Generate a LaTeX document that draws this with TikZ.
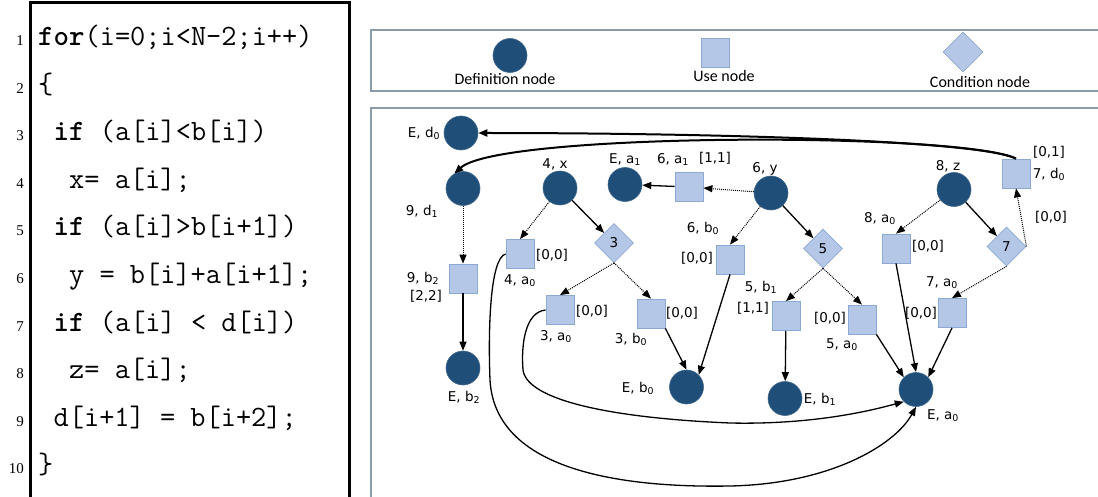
\documentclass[tikz,border=0pt]{standalone}
\usepackage{fontspec}
\newfontfamily\numfont{Liberation Serif}
\newfontfamily\lblfont{DejaVu Sans}
\newfontfamily\legfont{Carlito}
\usetikzlibrary{arrows.meta,shapes.geometric}
\definecolor{defblue}{HTML}{1F4E79}
\definecolor{useblue}{HTML}{B4C7E7}
\definecolor{useedge}{HTML}{8EA9D1}
\definecolor{boxgrey}{HTML}{8C9BA8}
\newcommand{\sub}[1]{\textsubscript{#1}}

\begin{document}
\begin{tikzpicture}[x=1pt,y=-1pt,
    defnode/.style={circle,fill=defblue,draw=defblue!85!white,line width=0.6pt,minimum size=34pt,inner sep=0pt},
    usenode/.style={rectangle,fill=useblue,draw=useedge,line width=0.8pt,minimum width=28pt,minimum height=29pt,inner sep=0pt},
    condnode/.style={diamond,fill=useblue,draw=useedge,line width=0.8pt,minimum size=39pt,inner sep=0pt,font=\lblfont\fontsize{13.5}{15}\selectfont},
    lbl/.style={anchor=base,inner sep=0pt,font=\lblfont\fontsize{13.5}{15}\selectfont},
    codeline/.style={anchor=base west,inner sep=0pt,font=\ttfamily\fontsize{29.5}{31}\selectfont},
    linenum/.style={anchor=base east,inner sep=0pt,font=\numfont\fontsize{15}{17}\selectfont},
    legtext/.style={anchor=base,inner sep=0pt,font=\legfont\fontsize{16}{18}\selectfont},
    solidedge/.style={-{Triangle[length=9pt,width=7pt]},line width=1.3pt},
    dotedge/.style={-{Triangle[length=9pt,width=7pt]},line width=1pt,dash pattern=on 1pt off 1pt},
    longedge/.style={-{Triangle[length=9pt,width=7pt]},line width=2pt}]
\useasboundingbox (0,0) rectangle (1098,497);

% code listing
\draw[line width=3pt] (30,540) -- (30,3) -- (349,3) -- (349,540);
\foreach \n in {1,...,10}
    \node[linenum] (num\n) at (24, {45.5+47.6*(\n-1)}) {\n};
\node[codeline] (line1) at (38,45.5) {\textbf{for}(i=0;i<N-2;i++)};
\node[codeline] (line2) at (38,93.1) {\{};
\node[codeline] (line3) at (53.5,140.7) {\textbf{if} (a[i]<b[i])};
\node[codeline] (line4) at (69,188.3) {x= a[i];};
\node[codeline] (line5) at (53.5,235.9) {\textbf{if} (a[i]>b[i+1])};
\node[codeline] (line6) at (69,283.5) {y = b[i]+a[i+1];};
\node[codeline] (line7) at (53.5,331.1) {\textbf{if} (a[i] < d[i])};
\node[codeline] (line8) at (69,378.7) {z= a[i];};
\node[codeline] (line9) at (53.5,426.3) {d[i+1] = b[i+2];};
\node[codeline] (line10) at (38,473.9) {\}};

% legend
\draw[boxgrey,line width=1.2pt] (1110,30) -- (371,30) -- (371,91) -- (1110,91);
\node[defnode] (legdef) at (510,55.5) {};
\node[legtext] (legdeftxt) at (505,85) {Definition node};
\node[usenode] (leguse) at (715,53) {};
\node[legtext] (legusetxt) at (724,82) {Use node};
\node[condnode,minimum size=40pt] (legcond) at (963,52) {};
\node[legtext] (legcondtxt) at (980,88) {Condition node};

% graph
\draw[boxgrey,line width=1.2pt] (1110,108) -- (371,108) -- (371,510);

\node[defnode] (Ed0) at (461,133) {};
\node[defnode] (d9) at (463,188.5) {};
\node[defnode] (x4) at (560,188) {};
\node[defnode] (Ea1) at (625,184.5) {};
\node[usenode] (u6a1) at (689,187) {};
\node[defnode] (y6) at (771,193) {};
\node[defnode] (z8) at (954,189.5) {};
\node[usenode] (u7d0) at (1016,173.5) {};
\node[usenode] (u4a0) at (520,254) {};
\node[condnode] (cond3) at (614,243) {3};
\node[usenode] (u6b0) at (730,259.5) {};
\node[condnode] (cond5) at (823,248.5) {5};
\node[usenode] (u8a0) at (896,248.5) {};
\node[condnode] (cond7) at (1006.5,246.5) {7};
\node[usenode] (u9b2) at (463,278.5) {};
\node[usenode] (u3a0) at (560,310) {};
\node[usenode] (u3b0) at (651,313.5) {};
\node[usenode] (u5b1) at (786,316) {};
\node[usenode] (u5a0) at (862,319.5) {};
\node[usenode] (u7a0) at (952,313) {};
\node[defnode] (Eb2) at (463,368) {};
\node[defnode] (Eb0) at (686.5,387) {};
\node[defnode] (Eb1) at (785,398.5) {};
\node[defnode] (Ea0) at (916,389.5) {};

% labels
\node[lbl] (tEd0) at (424,137.5) {E, d\sub{0}};
\node[lbl] (td9) at (422,215.5) {9, d\sub{1}};
\node[lbl] (tx4) at (555,168.5) {4, x};
\node[lbl] (tEa1) at (625,163.5) {E, a\sub{1}};
\node[lbl] (t6a1) at (673,163.5) {6, a\sub{1}};
\node[lbl] (r6a1) at (715,162.5) {[1,1]};
\node[lbl] (ty6) at (765,172.5) {6, y};
\node[lbl] (tz8) at (948,170.5) {8, z};
\node[lbl] (r7d0) at (1049,157) {[0,1]};
\node[lbl] (t7d0) at (1049,178.5) {7, d\sub{0}};
\node[lbl] (r4a0) at (552,260) {[0,0]};
\node[lbl] (t4a0) at (520,284.5) {4, a\sub{0}};
\node[lbl] (t9b2) at (423,282.5) {9, b\sub{2}};
\node[lbl] (r9b2) at (426,300) {[2,2]};
\node[lbl] (t6b0) at (703,232.5) {6, b\sub{0}};
\node[lbl] (r6b0) at (697,262) {[0,0]};
\node[lbl] (t8a0) at (880,222.5) {8, a\sub{0}};
\node[lbl] (r8a0) at (928,251) {[0,0]};
\node[lbl] (r7e) at (1051,222) {[0,0]};
\node[lbl] (t5b1) at (761,291.5) {5, b\sub{1}};
\node[lbl] (t7a0) at (942,286.5) {7, a\sub{0}};
\node[lbl] (r3a0) at (592,315) {[0,0]};
\node[lbl] (t3a0) at (556,340.5) {3, a\sub{0}};
\node[lbl] (r3b0) at (682,317) {[0,0]};
\node[lbl] (t3b0) at (631,343.5) {3, b\sub{0}};
\node[lbl] (r5b1) at (753,312) {[1,1]};
\node[lbl] (r5a0) at (830,322) {[0,0]};
\node[lbl] (t5a0) at (842,348.5) {5, a\sub{0}};
\node[lbl] (r7a0) at (921,317) {[0,0]};
\node[lbl] (tEb2) at (464,401.5) {E, b\sub{2}};
\node[lbl] (tEb0) at (638,392.5) {E, b\sub{0}};
\node[lbl] (tEb1) at (820,403.5) {E, b\sub{1}};
\node[lbl] (tEa0) at (943,419.5) {E, a\sub{0}};

% edges
\draw[longedge] (u7d0.north) .. controls (980,140) and (700,133) .. (Ed0.east);
\draw[longedge] (u7d0.north) .. controls (960,132) and (500,132) .. (d9.120);
\draw[dotedge] (d9) -- (u9b2);
\draw[solidedge] (u9b2) -- (Eb2);
\draw[dotedge] (x4) -- (u4a0.north);
\draw[solidedge] (x4) -- (cond3);
\draw[dotedge] (cond3.south) -- (u3a0.north);
\draw[dotedge] (cond3.south) -- (u3b0.north);
\draw[solidedge] (u3b0.south east) -- (Eb0.north);
\draw[solidedge] (u6b0.south) -- (Eb0.north east);
\draw[solidedge] (u6a1) -- (Ea1);
\draw[dotedge] (y6) -- (u6a1);
\draw[dotedge] (y6) -- (u6b0.north);
\draw[solidedge] (y6) -- (cond5);
\draw[dotedge] (cond5.south) -- (u5b1.north);
\draw[dotedge] (cond5.south) -- (u5a0.north);
\draw[solidedge] (u5b1) -- (Eb1);
\draw[solidedge] (u5a0.south east) -- (Ea0.north west);
\draw[dotedge] (z8) -- (u8a0.north);
\draw[solidedge] (z8) -- (cond7);
\draw[solidedge] (u8a0.south) -- (Ea0.north);
\draw[dotedge] (cond7.south) -- (u7a0.north);
\draw[dotedge] (cond7.east) -- (u7d0.south);
\draw[solidedge] (u7a0.south) -- (Ea0.north east);
\draw[solidedge] (u4a0.west) .. controls (490,258) and (488,330) .. (490,380)
    .. controls (495,470) and (620,488) .. (730,486)
    .. controls (830,484) and (895,445) .. (Ea0.south);
\draw[solidedge] (u3a0.west) .. controls (525,312) and (521,345) .. (523,370)
    .. controls (527,400) and (610,418) .. (730,423)
    .. controls (820,425) and (880,408) .. (Ea0.-135);
\end{tikzpicture}
\end{document}
